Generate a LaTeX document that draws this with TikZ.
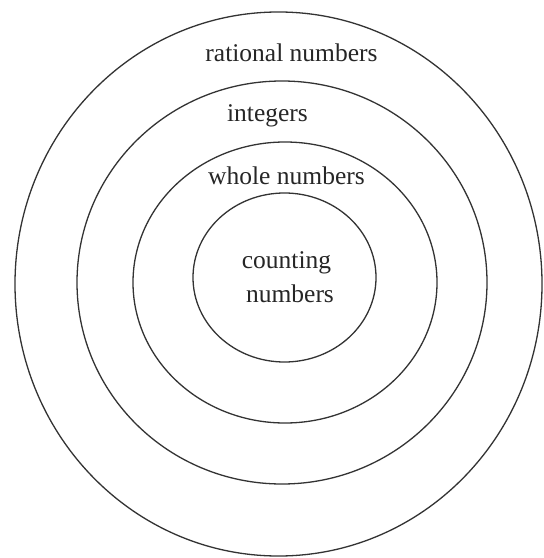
\documentclass[tikz,border=0pt]{standalone}
\usepackage{fontspec}
\setmainfont{Liberation Serif}
\begin{document}
\begin{tikzpicture}[x=1bp,y=-1bp,
  ring/.style={draw=black!80, line width=1.3bp},
  lbl/.style={anchor=base, inner sep=0pt, text=black!85, font=\fontsize{25.5bp}{31bp}\selectfont}]
\useasboundingbox (0,0) rectangle (544,558);
\fill[white] (0,0) rectangle (544,558);
\coordinate (c1) at (278.5,284);
\coordinate (c2) at (282,282.5);
\coordinate (c3) at (285,282.5);
\coordinate (c4) at (284.5,277.5);
\draw[ring] (c1) ellipse [x radius=263.5bp, y radius=272bp];
\draw[ring] (c2) ellipse [x radius=205bp, y radius=201.5bp];
\draw[ring] (c3) ellipse [x radius=152bp, y radius=140.5bp];
\draw[ring] (c4) ellipse [x radius=91.5bp, y radius=84.5bp];
\node[lbl] (rat) at (291.5,62) {rational numbers};
\node[lbl] (int) at (267.5,122) {integers};
\node[lbl] (whole) at (286.5,185) {whole numbers};
\node[lbl] (count) at (286.5,268) {counting};
\node[lbl] (num) at (290,302) {numbers};
\end{tikzpicture}
\end{document}
